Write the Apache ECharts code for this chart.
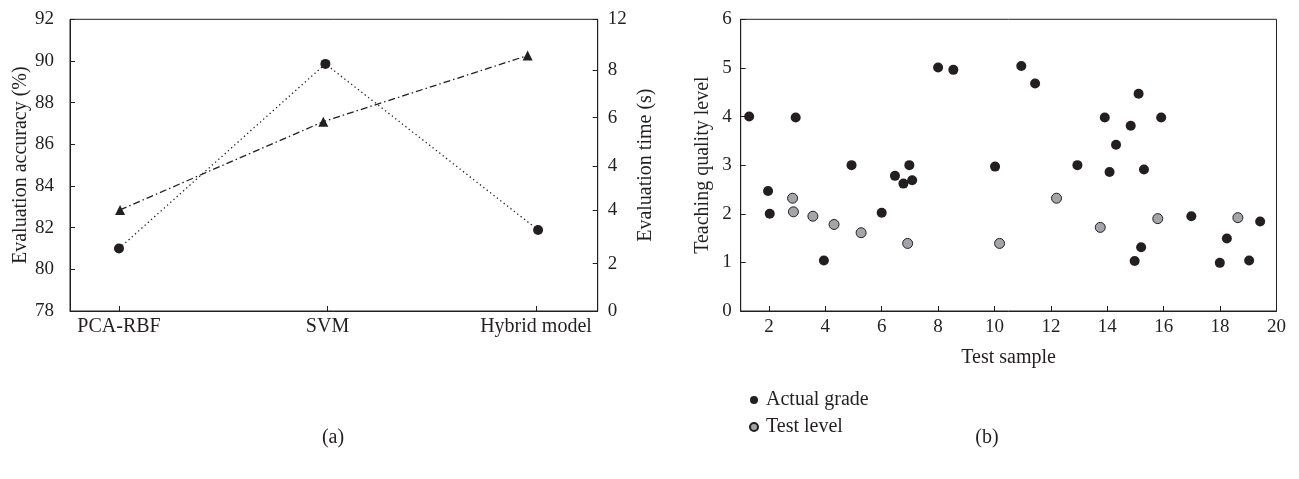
<!DOCTYPE html>
<html>
<head>
<meta charset="utf-8">
<script src="https://cdn.jsdelivr.net/npm/echarts@6/dist/echarts.min.js"></script>
<style>
  html, body { margin: 0; padding: 0; background: #fff; }
  #chart { width: 1299px; height: 479px; }
</style>
</head>
<body>
<div id="chart"></div>
<script>
// (a) methods compared
var methods = ['PCA-RBF', 'SVM', 'Hybrid model'];
var methodTicks = [0, 1, 2];
// positions of the points along the category axis (slightly off-centre in the figure)
var accuracyPos = [0, 0.99, 2.01];
var accuracy = [81.0, 89.86, 81.89];   // Evaluation accuracy (%)
var timePos = [0.005, 0.98, 1.96];
var evalTime = [4.16, 7.79, 10.51];     // Evaluation time (s)
// right axis as printed in the figure
var timeTickValues = [0, 1.95, 4.15, 5.95, 7.95, 9.9, 12];
var timeTickLabels = ['0', '2', '4', '4', '6', '8', '12'];

// (b) test samples
var sampleTicks = [2, 4, 6, 8, 10, 12, 14, 16, 18, 20];
var actualX = [1.30, 1.97, 2.03, 2.95, 3.95, 4.93, 6.00, 6.47, 6.77, 6.98, 7.08, 8.00, 8.54, 10.02,
               10.95, 11.44, 12.94, 13.91, 14.08, 14.31, 14.83, 15.11, 14.97, 15.20, 15.30, 15.91,
               16.98, 17.99, 18.24, 19.03, 19.42];
var actualY = [4.00, 2.47, 2.00, 3.98, 1.04, 3.00, 2.02, 2.78, 2.62, 3.00, 2.69, 5.01, 4.96, 2.97,
               5.04, 4.68, 3.00, 3.98, 2.86, 3.42, 3.81, 4.47, 1.03, 1.31, 2.91, 3.98,
               1.95, 0.99, 1.49, 1.04, 1.84];
var testX = [2.84, 2.87, 3.56, 4.31, 5.27, 6.92, 10.18, 12.20, 13.75, 15.79, 18.63];
var testY = [2.32, 2.04, 1.95, 1.78, 1.61, 1.39, 1.39, 2.32, 1.72, 1.90, 1.92];

var ink = '#231f20';
var font = '"Liberation Serif", "DejaVu Serif", serif';
var fs = 20;      // names, categories, legend
var numFs = 19;   // numeric tick labels

function pairs(xs, ys) {
    return xs.map(function (x, i) { return [x, ys[i]]; });
}

var axisBase = {
    axisLine: { show: true, onZero: false, lineStyle: { color: ink, width: 1 } },
    splitLine: { show: false },
    nameTextStyle: { color: ink, fontFamily: font, fontSize: fs }
};

var chart = echarts.init(document.getElementById('chart'));
var option = {
    animation: false,
    backgroundColor: '#fff',
    textStyle: { fontFamily: font, color: ink },
    grid: [
        { left: 70, top: 19.3, width: 527.7, height: 291.7, show: true, borderColor: ink, borderWidth: 1 },
        { left: 740.7, top: 19.3, width: 535.8, height: 291.7, show: true, borderColor: ink, borderWidth: 1 }
    ],
    xAxis: [
        Object.assign({}, axisBase, {
            gridIndex: 0, type: 'value', min: -0.235, max: 2.296,
            axisTick: { show: true, inside: true, length: 5, customValues: methodTicks, lineStyle: { color: ink } },
            axisLabel: {
                customValues: methodTicks, margin: 6, color: ink, fontFamily: font, fontSize: fs,
                formatter: function (v) { return methods[Math.round(v)]; }
            }
        }),
        Object.assign({}, axisBase, {
            gridIndex: 1, type: 'value', min: 1, max: 20,
            name: 'Test sample', nameLocation: 'middle', nameGap: 37,
            axisTick: { show: true, inside: true, length: 5, customValues: sampleTicks, lineStyle: { color: ink } },
            axisLabel: { customValues: sampleTicks, margin: 7, color: ink, fontFamily: font, fontSize: numFs }
        })
    ],
    yAxis: [
        Object.assign({}, axisBase, {
            gridIndex: 0, type: 'value', min: 78, max: 92, interval: 2,
            name: 'Evaluation accuracy (%)', nameLocation: 'middle', nameGap: 39, nameRotate: 90,
            axisTick: { show: true, inside: true, length: 5, lineStyle: { color: ink } },
            axisLabel: { margin: 16, color: ink, fontFamily: font, fontSize: numFs }
        }),
        Object.assign({}, axisBase, {
            gridIndex: 0, type: 'value', position: 'right', min: 0, max: 12,
            name: 'Evaluation time (s)', nameLocation: 'middle', nameGap: 38, nameRotate: 90,
            axisTick: { show: true, inside: true, length: 5, customValues: timeTickValues, lineStyle: { color: ink } },
            axisLabel: {
                customValues: timeTickValues, margin: 10, color: ink, fontFamily: font, fontSize: numFs,
                formatter: function (v) {
                    var i = timeTickValues.indexOf(v);
                    return i < 0 ? '' : timeTickLabels[i];
                }
            }
        }),
        Object.assign({}, axisBase, {
            gridIndex: 1, type: 'value', min: 0, max: 6, interval: 1,
            name: 'Teaching quality level', nameLocation: 'middle', nameGap: 28, nameRotate: 90,
            axisTick: { show: true, inside: true, length: 5, lineStyle: { color: ink } },
            axisLabel: { margin: 9, color: ink, fontFamily: font, fontSize: numFs }
        })
    ],
    legend: {
        orient: 'vertical', left: 744, top: 385, itemGap: 7,
        icon: 'circle', itemWidth: 8, itemHeight: 8,
        textStyle: { color: ink, fontFamily: font, fontSize: fs, padding: [0, 0, 0, 3] },
        data: ['Actual grade', 'Test level']
    },
    graphic: [
        { type: 'text', x: 333, y: 438, style: { text: '(a)', fill: ink, font: fs + 'px ' + font, textAlign: 'center', textVerticalAlign: 'middle' } },
        { type: 'text', x: 987, y: 438, style: { text: '(b)', fill: ink, font: fs + 'px ' + font, textAlign: 'center', textVerticalAlign: 'middle' } }
    ],
    series: [
        {
            name: 'Evaluation accuracy', type: 'line', xAxisIndex: 0, yAxisIndex: 0,
            data: pairs(accuracyPos, accuracy),
            symbol: 'circle', symbolSize: 10,
            itemStyle: { color: ink },
            lineStyle: { color: ink, width: 1.3, type: [1.3, 3] }
        },
        {
            name: 'Evaluation time', type: 'line', xAxisIndex: 0, yAxisIndex: 1,
            data: pairs(timePos, evalTime),
            symbol: 'triangle', symbolSize: 10,
            itemStyle: { color: ink },
            lineStyle: { color: ink, width: 1.3, type: [7, 3, 1.5, 3] }
        },
        {
            name: 'Actual grade', type: 'scatter', xAxisIndex: 1, yAxisIndex: 2,
            data: pairs(actualX, actualY),
            symbol: 'circle', symbolSize: 10,
            itemStyle: { color: ink, opacity: 1 }
        },
        {
            name: 'Test level', type: 'scatter', xAxisIndex: 1, yAxisIndex: 2,
            data: pairs(testX, testY),
            symbol: 'circle', symbolSize: 10,
            itemStyle: { color: '#a3a5a8', borderColor: ink, borderWidth: 1, opacity: 1 }
        }
    ]
};
chart.setOption(option);
</script>
</body>
</html>
